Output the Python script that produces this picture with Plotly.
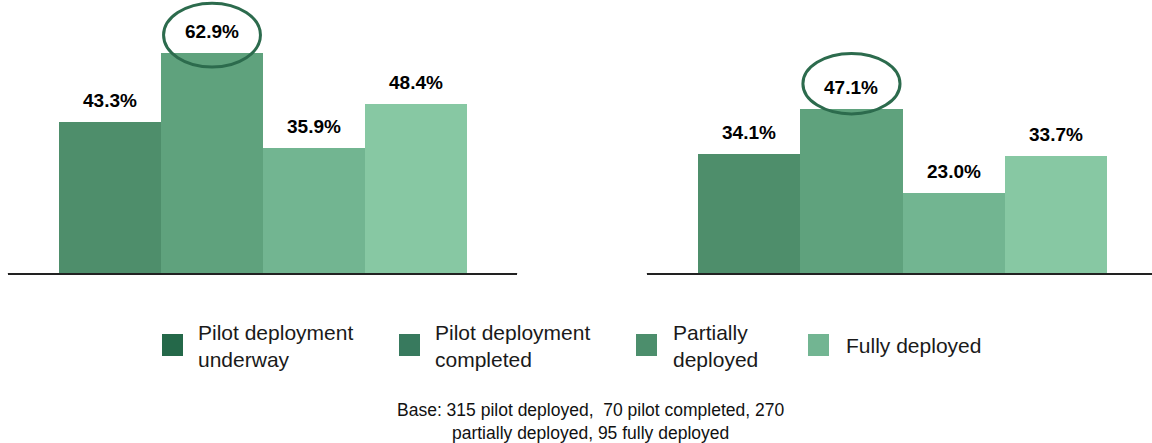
import plotly.graph_objects as go

# Deployment stages and their shares (%) for the two survey panels
stages = ["Pilot deployment underway", "Pilot deployment completed",
          "Partially deployed", "Fully deployed"]
panel_left_values = [43.3, 62.9, 35.9, 48.4]
panel_right_values = [34.1, 47.1, 23.0, 33.7]

legend_labels = ["Pilot deployment<br>underway", "Pilot deployment<br>completed",
                 "Partially<br>deployed", "Fully deployed"]
footnote = "Base: 315 pilot deployed,  70 pilot completed, 270<br>partially deployed, 95 fully deployed"

# Styling
bar_colors = ["#4E8E6B", "#5FA27D", "#72B591", "#87C8A3"]
legend_colors = ["#246849", "#387A5E", "#4C8E6C", "#72B592"]
ring_color = "#2C6B4D"
FONT = "Arial, Liberation Sans, sans-serif"

W, H = 1152, 443
BASE_PX = 273.3          # pixel row of the baseline
PX_PER_UNIT = 3.495      # vertical pixels per percentage point
Y_MAX = BASE_PX / PX_PER_UNIT


def px(x, y):
    """Convert pixel coordinates to paper coordinates."""
    return x / W, 1 - y / H


positions = list(range(len(stages)))

fig = go.Figure()
fig.add_trace(go.Bar(x=positions, y=panel_left_values, width=1,
                     marker=dict(color=bar_colors, line=dict(width=0)),
                     xaxis="x", yaxis="y", showlegend=False,
                     hovertext=stages, hoverinfo="text+y"))
fig.add_trace(go.Bar(x=positions, y=panel_right_values, width=1,
                     marker=dict(color=bar_colors, line=dict(width=0)),
                     xaxis="x2", yaxis="y2", showlegend=False,
                     hovertext=stages, hoverinfo="text+y"))

annotations = []
shapes = []

# Value labels and highlight ring around the tallest bar of each panel
panels = [
    ("x", "y", panel_left_values, (-3.9, 14.4)),
    ("x2", "y2", panel_right_values, (-1.5, 15.8)),
]
for xr, yr, vals, (ring_lo, ring_hi) in panels:
    for i, v in enumerate(vals):
        annotations.append(dict(
            x=i, y=v, xref=xr, yref=yr, text=f"<b>{v:.1f}%</b>",
            showarrow=False, xanchor="center", yanchor="bottom", yshift=9,
            font=dict(family=FONT, size=19, color="#000000")))
    top = max(range(len(vals)), key=lambda k: vals[k])
    shapes.append(dict(
        type="circle", xref=xr, yref=yr, layer="above",
        x0=top - 0.475, x1=top + 0.475,
        y0=vals[top] + ring_lo, y1=vals[top] + ring_hi,
        line=dict(color=ring_color, width=3), fillcolor="rgba(0,0,0,0)"))

# Small end ticks on the baselines
for xr, yr, ends in [("x", "y", [0, 1]), ("x2", "y2", [0])]:
    for e in ends:
        shapes.append(dict(
            type="line", xref=f"{xr} domain", yref=yr, ysizemode="pixel",
            yanchor=0, x0=e, x1=e, y0=0, y1=-4,
            line=dict(color="#222222", width=1.5)))

# Legend: swatches and labels
swatch_x = [162, 399, 636, 808]
text_x = [196, 433, 671, 844]
for sx, tx, col, lab in zip(swatch_x, text_x, legend_colors, legend_labels):
    x0, y0 = px(sx, 356)
    x1, y1 = px(sx + 21, 334)
    shapes.append(dict(type="rect", xref="paper", yref="paper",
                       x0=x0, x1=x1, y0=y0, y1=y1,
                       fillcolor=col, line=dict(width=0)))
    ax, ay = px(tx, 345.5)
    annotations.append(dict(
        x=ax, y=ay, xref="paper", yref="paper", text=lab, showarrow=False,
        xanchor="left", yanchor="middle", align="left",
        font=dict(family=FONT, size=21, color="#1a1a1a")))

# Footnote
fx, fy = px(590, 421.5)
annotations.append(dict(
    x=fx, y=fy, xref="paper", yref="paper", text=footnote, showarrow=False,
    xanchor="center", yanchor="middle", align="center",
    font=dict(family=FONT, size=17.5, color="#111111")))

y_domain = [1 - BASE_PX / H, 1]
axis_common = dict(showline=True, linecolor="#222222", linewidth=1.5,
                   showticklabels=False, ticks="", showgrid=False,
                   zeroline=False, fixedrange=True)
yaxis_common = dict(range=[0, Y_MAX], visible=False, showgrid=False,
                    zeroline=False, domain=y_domain, fixedrange=True)

fig.update_layout(
    width=W, height=H,
    margin=dict(l=0, r=0, t=0, b=0),
    paper_bgcolor="white", plot_bgcolor="white",
    bargap=0,
    xaxis=dict(domain=[8 / W, 517 / W], range=[-1.0, 3.99], anchor="y",
               **axis_common),
    xaxis2=dict(domain=[647 / W, 1.0], range=[-1.0, 3.94], anchor="y2",
                **axis_common),
    yaxis=dict(anchor="x", **yaxis_common),
    yaxis2=dict(anchor="x2", **yaxis_common),
    annotations=annotations,
    shapes=shapes,
)

fig.write_html("out.html")
